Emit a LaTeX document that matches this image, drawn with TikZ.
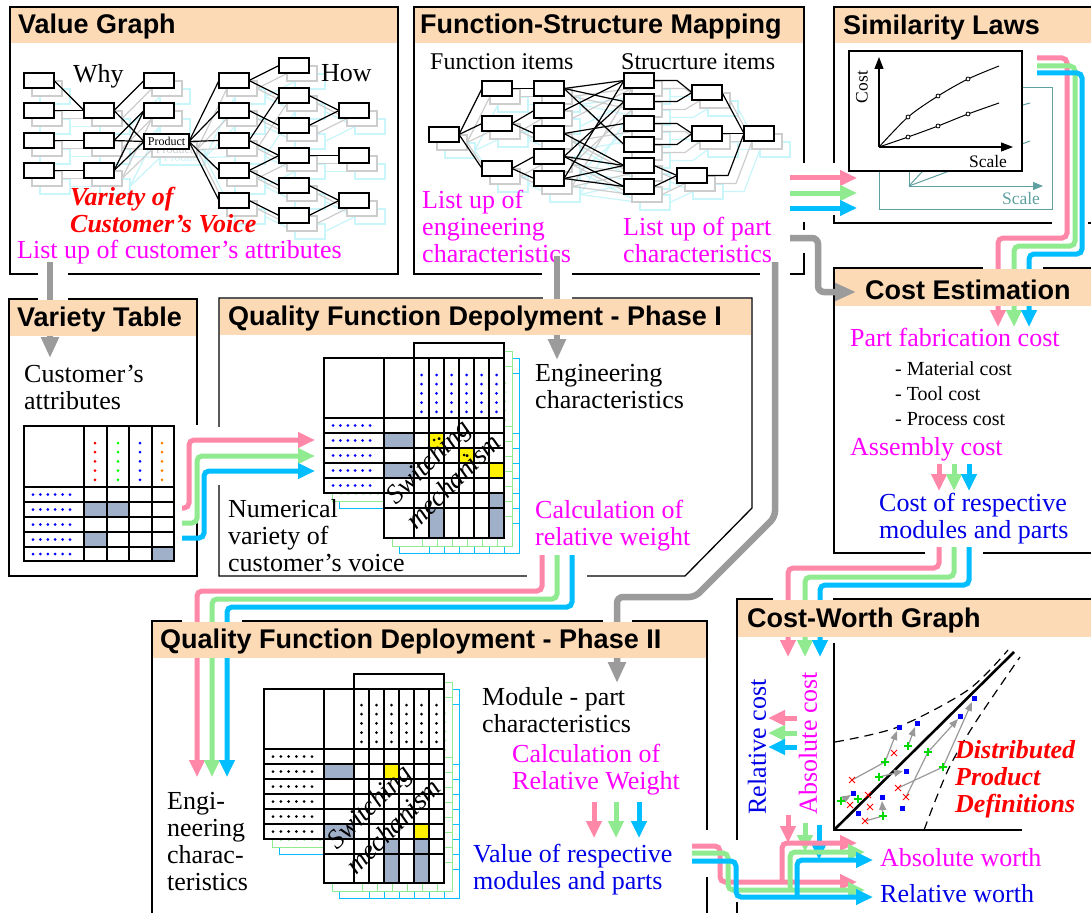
\documentclass[tikz,border=0pt]{standalone}
\usepackage{fontspec}
\setmainfont{Liberation Serif}
\setsansfont{Liberation Sans}
\usetikzlibrary{arrows.meta}
\definecolor{peach}{RGB}{253,218,182}
\definecolor{lpink}{RGB}{255,135,168}
\definecolor{lgreen}{RGB}{144,234,144}
\definecolor{lblue}{RGB}{0,190,255}
\definecolor{lgrey}{RGB}{155,155,155}
\definecolor{magtxt}{RGB}{255,0,255}
\definecolor{bluetxt}{RGB}{0,0,230}
\definecolor{cellgrey}{RGB}{160,176,200}
\definecolor{tealax}{RGB}{95,160,160}
\definecolor{ghost}{RGB}{205,205,205}
\definecolor{ghostcyan}{RGB}{200,246,250}
\tikzset{
  panel/.style={line width=1.3pt},
  gridln/.style={line width=1.2pt},
  itembox/.style={fill=white, line width=1.2pt},
  ttl/.style={anchor=west, inner sep=0pt, font=\sffamily\bfseries\fontsize{27}{28}\selectfont},
  txt/.style={anchor=west, align=left, inner sep=0pt, font=\fontsize{26}{27}\selectfont},
  midtxt/.style={anchor=west, inner sep=0pt, font=\fontsize{24}{26}\selectfont},
  smalltxt/.style={anchor=west, align=left, inner sep=0pt, font=\fontsize{20}{25}\selectfont},
  voice/.style={anchor=west, align=left, inner sep=0pt, text=red, font=\bfseries\itshape\fontsize{26}{27}\selectfont},
  rotlabel/.style={rotate=45, inner sep=0pt, font=\itshape\fontsize{27}{27}\selectfont},
  flow/.style={line width=5pt, rounded corners=5pt, -{Triangle[length=17pt,width=15pt]}},
  greyflow/.style={draw=lgrey, line width=6.5pt, rounded corners=6pt, -{Triangle[length=21pt,width=17pt]}},
  trend/.style={draw=gray!80, line width=1.2pt},
}
\newcommand{\vgraph}{%
  \foreach \xa/\ya/\xb/\yb in {54/80.5/84/110.5, 54/110.5/84/110.5, 54/140.5/84/140.5, 54/170.5/84/170.5,
    114/110.5/144/80.5, 114/110.5/144/141.5, 114/140.5/144/110.5, 114/140.5/144/141.5, 114/170.5/144/110.5, 114/170.5/144/141.5,
    189/141.5/219/80.5, 189/141.5/219/110.5, 189/141.5/219/140.5, 189/141.5/219/170.5, 189/141.5/219/200.5,
    249/80.5/279/65.5, 249/80.5/279/95.5, 249/110.5/279/125.5, 249/140.5/279/95.5, 249/140.5/279/155.5,
    249/170.5/279/155.5, 249/170.5/279/185.5, 249/200.5/279/215.5,
    309/95.5/339/110.5, 309/125.5/339/110.5, 309/155.5/339/155.5, 309/185.5/339/200.5, 309/215.5/339/200.5}
    \draw[line width=1.2pt] (\xa,\ya) -- (\xb,\yb);
  \foreach \x/\y in {24/73, 24/103, 24/133, 24/163, 84/103, 84/133, 84/163, 144/73, 144/103,
    219/73, 219/103, 219/133, 219/163, 219/193, 279/58, 279/88, 279/118, 279/148, 279/178, 279/208,
    339/103, 339/148, 339/193}
    \draw[itembox] (\x,\y) rectangle +(30,15);
  \draw[itembox] (144,134) rectangle (189,149);
  \node[font=\fontsize{12}{12}\selectfont, inner sep=0pt] (prod) at (166.5,141.5) {Product};
}
\newcommand{\fsgraph}{%
  \foreach \xa/\ya/\xb/\yb in {459/134.5/482/88.5, 459/134.5/482/123.5, 459/134.5/482/168.5,
    512/88.5/534/88.5, 512/123.5/534/110.5, 512/123.5/534/133.5, 512/168.5/534/156.5, 512/168.5/534/178.5,
    564/88.5/624/80.5, 564/88.5/624/101.5, 564/88.5/624/144.5, 564/110.5/624/80.5, 564/133.5/624/123.5,
    564/133.5/624/165.5, 564/156.5/624/165.5, 564/156.5/624/186.5, 564/156.5/624/101.5,
    564/178.5/624/80.5, 564/178.5/624/165.5, 564/178.5/624/186.5,
    654/165.5/677/175.5, 654/186.5/677/175.5, 722/92.5/744/133.5, 722/133.5/744/133.5}
    \draw[line width=1.2pt] (\xa,\ya) -- (\xb,\yb);
  \foreach \ya/\yb in {80.5/92.5, 101.5/92.5, 123.5/133.5, 144.5/133.5}
    \draw[line width=1.2pt] (654,\ya) -- (677,\ya) -- (692,\yb);
  \draw[line width=1.2pt] (707,175.5) -- (728,175.5) -- (744,133.5);
  \foreach \x/\y in {429/127, 482/81, 482/116, 482/161, 534/81, 534/103, 534/126, 534/149, 534/171,
    624/73, 624/94, 624/116, 624/137, 624/158, 624/179, 692/85, 692/126, 677/168, 744/126}
    \draw[itembox] (\x,\y) rectangle +(30,15);
}
\newcommand{\qfdIbg}{%
  \fill[white] (324,358) rectangle (384,493);
  \fill[white] (384,358) rectangle (504,538);
  \fill[white] (414,343) rectangle (504,358);
}
\newcommand{\qfdIgrid}[1]{%
  \draw[gridln] (324,358) rectangle (384,493);
  \draw[gridln] (384,358) rectangle (504,538);
  \draw[gridln] (414,343) rectangle (504,358);
  \foreach \y in {418,433,448,463,478} \draw[gridln] (324,\y) -- (504,\y);
  \foreach \y in {493,508} \draw[gridln] (384,\y) -- (504,\y);
  \foreach \x in {414,429,444,459,474,489} \draw[gridln] (\x,358) -- (\x,538);
  \foreach \x in {421.5,436.5,451.5,466.5,481.5,496.5} \foreach \y in {375,384.2,...,413} \fill[#1] (\x,\y) circle (1.5pt);
  \foreach \y in {425.5,440.5,455.5,470.5,485.5} \foreach \x in {333,340.4,...,371} \fill[#1] (\x,\y) circle (1.5pt);
}
\newcommand{\qfdIIbg}{%
  \fill[white] (264,689) rectangle (324,839);
  \fill[white] (324,689) rectangle (444,883);
  \fill[white] (354,674) rectangle (444,689);
}
\newcommand{\qfdIIgrid}[1]{%
  \draw[gridln] (264,689) rectangle (324,839);
  \draw[gridln] (324,689) rectangle (444,883);
  \draw[gridln] (354,674) rectangle (444,689);
  \foreach \y in {749,764,779,794,809,824} \draw[gridln] (264,\y) -- (444,\y);
  \foreach \y in {839,854} \draw[gridln] (324,\y) -- (444,\y);
  \foreach \x in {354,369,384,399,414,429} \draw[gridln] (\x,689) -- (\x,883);
  \foreach \x in {361.5,376.5,391.5,406.5,421.5,436.5} \foreach \y in {705,714.2,...,744} \fill[#1] (\x,\y) circle (1.5pt);
  \foreach \y in {756.5,771.5,786.5,801.5,816.5,831.5} \foreach \x in {273,280.8,...,314} \fill[#1] (\x,\y) circle (1.5pt);
}
\begin{document}
\begin{tikzpicture}[x=1pt, y=-1pt]
\useasboundingbox (0,0) rectangle (1091,912);
\clip (0,0) rectangle (1091,912);
\fill[white] (0,0) rectangle (1091,912);

\draw[panel] (10,7) rectangle (398,274);
\draw[panel] (414,7) rectangle (804,274);
\draw[panel] (834,7) rectangle (1100,223);
\draw[panel] (9,299) rectangle (197,576);
\draw[panel] (219,298) -- (752,298) -- (752,508) -- (685,576) -- (219,576) -- cycle;
\draw[panel] (834,268) rectangle (1100,553);
\draw[panel] (152,621) rectangle (707,920);
\draw[panel] (737,599) rectangle (1100,920);
\foreach \xa/\ya/\xb/\yb in {38/270/68/278, 38/295/68/303, 193/425/201/487, 215/427/223/485, 543/294/572/302,
  542/270/572/278, 760/270/790/278, 800/163/808/222, 800/230/808/253, 830/163/838/215, 1052/219/1088/227,
  983/264/1043/272, 925/549/983/557, 773/595/833/603, 527/572/587/580, 182/617/242/625, 603/617/632/625,
  703/830/711/877, 733/840/741/902}
  \fill[white] (\xa,\ya) rectangle (\xb,\yb);

\begin{scope}[shift={(16,16)}, color=ghostcyan]\vgraph\end{scope}
\begin{scope}[shift={(8,8)}, color=ghost]\vgraph\end{scope}
\vgraph
\node[txt] (why) at (73,76) {Why};
\node[txt] (how) at (321,73) {How};
\node[voice] (voice) at (70,210) {Variety of\\Customer’s Voice};
\node[txt, text=magtxt] (custlist) at (17,252) {List up of customer’s attributes};

\begin{scope}[shift={(16,16)}, color=ghostcyan]\fsgraph\end{scope}
\begin{scope}[shift={(8,8)}, color=ghost]\fsgraph\end{scope}
\fsgraph
\node[midtxt] (fitems) at (430,62) {Function items};
\node[midtxt] (sitems) at (621,62) {Strucrture items};
\node[txt, text=magtxt] (englist) at (422,226) {List up of\\engineering\\characteristics};
\node[txt, text=magtxt] (partlist) at (623,239.5) {List up of part\\characteristics};

\draw[tealax, line width=1pt] (879,88) rectangle (1052,209);
\draw[tealax, line width=1pt, -{Triangle[length=10pt,width=8pt]}] (909,186) -- (1043,186);
\draw[tealax, line width=1pt] (909,186) -- (909,100);
\draw[tealax, line width=1pt] (909,186) .. controls (950,140) and (985,115) .. (1030,103);
\draw[tealax, line width=1pt] (909,186) -- (1030,141);
\node[text=tealax, inner sep=0pt, font=\fontsize{17.5}{18}\selectfont] (scaleb) at (1021,199) {Scale};
\filldraw[fill=white, line width=1.3pt] (849,51) rectangle (1022,171);
\draw[line width=1.1pt, -{Triangle[length=12pt,width=9pt]}] (879,147) -- (879,57);
\draw[line width=1.1pt, -{Triangle[length=12pt,width=9pt]}] (879,147) -- (1013,147);
\draw[line width=1pt] plot[smooth] coordinates {(879,147) (908,117) (938,96) (968,79) (999,66)};
\draw[line width=1pt] plot[smooth] coordinates {(879,147) (908,137) (938,126) (968,114) (999,103)};
\foreach \x/\y in {908/117, 938/96, 968/79, 908/137, 938/126, 968/114}
  \draw[line width=0.8pt, fill=white] (\x,\y) circle (2pt);
\node[rotate=90, inner sep=0pt, font=\fontsize{17.5}{18}\selectfont] (costax) at (862,87) {Cost};
\node[inner sep=0pt, font=\fontsize{17.5}{18}\selectfont] (scalef) at (988,162) {Scale};

\node[txt] (custattr) at (24,387) {Customer’s\\attributes};
\fill[cellgrey] (84,502) rectangle (129,517) (84,532) rectangle (107,547) (152,547) rectangle (174,561);
\draw[gridln] (24,426) rectangle (174,561);
\foreach \x in {84,107,129,152} \draw[gridln] (\x,426) -- (\x,561);
\foreach \y in {487,502,517,532,547} \draw[gridln] (24,\y) -- (174,\y);
\foreach \y in {494.5,509.5,524.5,539.5,554} \foreach \x in {33,40.4,...,71} \fill[blue] (\x,\y) circle (1.5pt);
\foreach \x/\c in {95/red, 118/green, 140/blue, 162/orange} \foreach \y in {443,452.2,...,481} \fill[\c] (\x,\y) circle (1.5pt);

\begin{scope}[shift={(15,15)}, color=lblue, gridln/.style={line width=0.9pt}]\qfdIbg\qfdIgrid{}\end{scope}
\begin{scope}[shift={(8,8)}, color=lgreen, gridln/.style={line width=0.9pt}]\qfdIbg\qfdIgrid{}\end{scope}
\qfdIbg
\fill[cellgrey] (384,433) rectangle (414,448) (384,463) rectangle (414,478) (429,508) rectangle (444,538) (489,493) rectangle (504,538);
\fill[yellow] (429,433) rectangle (444,448) (459,448) rectangle (474,463) (489,463) rectangle (504,478);
\fill (434,440) circle (1.5pt) (464,455) circle (1.5pt);
\qfdIgrid{blue}
\node[rotlabel] (switch1) at (430,463) {Switching};
\node[rotlabel] (mech1) at (453,481) {mechanism};
\node[txt] (engchar) at (535,387) {Engineering\\characteristics};
\node[txt] (numvar) at (228,535.5) {Numerical\\variety of\\customer’s voice};
\node[txt, text=magtxt] (calcrel) at (535,526) {Calculation of\\relative weight};

\node[txt, text=magtxt] (partfab) at (850,337) {Part fabrication cost};
\node[smalltxt] (costitems) at (895,394) {- Material cost\\- Tool cost\\- Process cost};
\node[txt, text=magtxt] (assycost) at (850,449) {Assembly cost};
\node[txt, text=bluetxt] (costmod) at (879,518.5) {Cost of respective\\modules and parts};
\foreach \c/\x in {lpink/939, lgreen/954, lblue/969}
  \draw[flow, \c] (\x,464) -- (\x,491);

\begin{scope}[shift={(15,15)}, color=lblue, gridln/.style={line width=0.9pt}]\qfdIIbg\qfdIIgrid{}\end{scope}
\begin{scope}[shift={(8,8)}, color=lgreen, gridln/.style={line width=0.9pt}]\qfdIIbg\qfdIIgrid{}\end{scope}
\qfdIIbg
\fill[cellgrey] (324,764) rectangle (354,779) (324,824) rectangle (354,839) (384,839) rectangle (399,883) (414,839) rectangle (429,883);
\fill[yellow] (384,764) rectangle (399,779) (414,824) rectangle (429,839);
\qfdIIgrid{black}
\node[rotlabel] (switch2) at (371,808) {Switching};
\node[rotlabel] (mech2) at (393,826) {mechanism};
\node[txt] (engchar2) at (167,841.5) {Engi-\\neering\\charac-\\teristics};
\node[txt] (modpart) at (482,710.5) {Module - part\\characteristics};
\node[txt, text=magtxt] (calcrel2) at (512,770) {Calculation of\\Relative Weight};
\node[txt, text=bluetxt] (valmod) at (473,869.5) {Value of respective\\modules and parts};
\foreach \c/\x in {lpink/594, lgreen/616, lblue/639}
  \draw[flow, \c] (\x,802) -- (\x,838);

\draw[line width=1.2pt] (834,643) -- (834,830) -- (1022,830);
\draw[line width=1.2pt, dash pattern=on 9pt off 6pt] plot[smooth] coordinates {(835,742) (898,727) (968,690) (1008,650)};
\draw[line width=1.2pt, dash pattern=on 9pt off 6pt] plot[smooth] coordinates {(924,830) (948,770) (975,723) (1020,657)};
\draw[line width=2.6pt] (834,830) -- (1014,652);
\foreach \xa/\ya/\xb/\yb in {852/780/885/762, 865/821/883/816, 898/788/943/767, 906/797/928/752}
  \draw[trend] (\xa,\ya) -- (\xb,\yb);
\foreach \xa/\ya/\xb/\yb in {885/762/897/731, 908/746/915/727, 879/777/903/771, 841/801/851/795,
  883/816/882/801, 943/767/972/702, 928/752/958/719}
  \draw[trend, -{Triangle[length=9pt,width=7pt]}] (\xa,\ya) -- (\xb,\yb);
\foreach \x/\y in {852/780, 850/805, 868/795, 870/807, 865/821, 894/753, 898/788, 906/797}
  \draw[red, line width=1pt] (\x-3,\y-3) -- (\x+3,\y+3) (\x-3,\y+3) -- (\x+3,\y-3);
\foreach \x/\y in {841/801, 858/799, 879/777, 885/762, 883/816, 908/746, 928/752, 943/767}
  \draw[green!85!black, line width=1.2pt] (\x-4,\y) -- (\x+4,\y) (\x,\y-4) -- (\x,\y+4);
\foreach \x/\y in {853/793, 858/813, 882/797, 902/808, 906/771, 899/727, 917/723, 960/716, 974/698}
  \fill[blue] (\x-2.5,\y-2.5) rectangle (\x+2.5,\y+2.5);
\node[voice] (dpd) at (955,779) {Distributed\\Product\\Definitions};
\node[txt, rotate=90, anchor=center, text=bluetxt] (relcost) at (757,747) {Relative cost};
\node[txt, rotate=90, anchor=center, text=magtxt] (abscost) at (808,743) {Absolute cost};
\node[txt, text=magtxt] (absworth) at (880,858) {Absolute worth};
\node[txt, text=bluetxt] (relworth) at (880,894) {Relative worth};
\foreach \c/\y in {lpink/718, lgreen/733, lblue/747}
  \draw[flow, \c] (797,\y) -- (768,\y);
\foreach \c/\x/\ya/\yb in {lpink/788/815/843, lgreen/805/823/852, lblue/819/825/860}
  \draw[flow, \c] (\x,\ya) -- (\x,\yb);

\coordinate (vgout) at (50,262);
\coordinate (vtin) at (50,358);
\draw[greyflow] (vgout) -- (vtin);
\coordinate (fsout-e) at (557,256);
\coordinate (qain) at (557,360);
\draw[greyflow] (fsout-e) -- (qain);
\coordinate (fsout-g) at (775,262);
\coordinate (qbin-g) at (617,683);
\draw[greyflow] (fsout-g) -- (775,517) -- (695,597) -| (qbin-g);

\foreach \c/\n/\ys/\xt/\yt in {lpink/p/508/189/440, lgreen/g/523/197/456, lblue/b/538/204/471} {
  \coordinate (vtout-\n) at (182,\ys);
  \coordinate (qain-\n) at (315,\yt);
  \draw[flow, \c] (vtout-\n) -| (\xt,\yt) -- (qain-\n);
}
\foreach \c/\n/\y in {lpink/p/178, lgreen/g/193, lblue/b/208} {
  \coordinate (fsout-\n) at (790,\y);
  \coordinate (simin-\n) at (857,\y);
  \draw[flow, \c] (fsout-\n) -- (simin-\n);
}
\foreach \c/\n/\ys/\xr/\yt/\xd in {lpink/p/58/1067/238/998, lgreen/g/66/1075/246/1014, lblue/b/73/1082/254/1029} {
  \coordinate (simout-\n) at (1037,\ys);
  \coordinate (cein-\n) at (\xd,327);
  \draw[flow, \c] (simout-\n) -| (\xr,\yt) -| (cein-\n);
}
\foreach \c/\n/\xs/\yt/\xd in {lpink/p/939/568/788, lgreen/g/954/577/805, lblue/b/969/585/820} {
  \coordinate (ceout-\n) at (\xs,547);
  \coordinate (cwin-\n) at (\xd,657);
  \draw[flow, \c] (ceout-\n) |- (\xd,\yt) -- (cwin-\n);
}
\foreach \c/\n/\xs/\yt/\xd in {lpink/p/542/591/197, lgreen/g/557/599/212, lblue/b/572/607/227} {
  \coordinate (qaout-\n) at (\xs,555);
  \coordinate (qbin-\n) at (\xd,777);
  \draw[flow, \c] (qaout-\n) |- (\xd,\yt) -- (qbin-\n);
}
\foreach \c/\n/\ys/\xt/\yt/\xj/\yu/\xe in {lpink/p/846/720/882/782/843/857, lgreen/g/853/728/890/790/852/865, lblue/b/861/736/897/797/860/873} {
  \coordinate (qbout-\n) at (692,\ys);
  \coordinate (relw-\n) at (\xe,\yt);
  \coordinate (absw-\n) at (\xe,\yu);
  \draw[flow, \c] (qbout-\n) -| (\xt,\yt) -- (relw-\n);
  \draw[flow, \c] (\xj,\yt) |- (absw-\n);
}

\foreach \xa/\ya/\xb/\yb in {10/7/398/43, 414/7/804/43, 834/7/1100/43, 9/299/197/336, 219/298/752/335,
  834/268/1100/306, 152/621/707/658, 737/599/1100/637}
  \fill[peach] (\xa+0.7,\ya+0.7) rectangle (\xb-0.7,\yb);
\node[ttl] (vgttl) at (18,27) {Value Graph};
\node[ttl] (fsttl) at (420,27) {Function-Structure Mapping};
\node[ttl] (simttl) at (843,28) {Similarity Laws};
\node[ttl] (vtttl) at (17,320) {Variety Table};
\node[ttl] (qattl) at (228,319) {Quality Function Depolyment - Phase I};
\node[ttl] (cettl) at (865,290) {Cost Estimation};
\node[ttl] (qbttl) at (160,642) {Quality Function Deployment - Phase II};
\node[ttl] (cwttl) at (747,621) {Cost-Worth Graph};

\coordinate (fsout-c) at (790,238);
\coordinate (cein-g) at (856,292);
\draw[greyflow] (fsout-c) -| (818,292) -- (cein-g);
\end{tikzpicture}
\end{document}
